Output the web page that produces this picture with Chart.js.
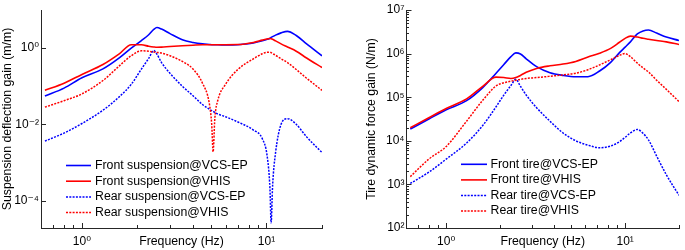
<!DOCTYPE html>
<html>
<head>
<meta charset="utf-8">
<script src="https://cdn.jsdelivr.net/npm/chart.js@4.4.0/dist/chart.umd.min.js"></script>
<style>
  html, body { margin: 0; padding: 0; background: #fff; }
  #wrap { position: relative; width: 685px; height: 250px; overflow: hidden; }
  #wrap canvas { position: absolute; top: 0; }
  #suspension { left: 0; }
  #tire { left: 340px; }
</style>
</head>
<body>
<div id="wrap">
  <canvas id="suspension" width="340" height="250"></canvas>
  <canvas id="tire" width="345" height="250"></canvas>
</div>
<script>
// ---- left panel: suspension deflection gain (m/m) ----
const suspFreq = [0.63, 0.8, 1, 1.3, 1.6, 1.85, 2.1, 2.3, 2.45, 2.55, 2.7, 3, 3.5, 4, 4.5, 4.9, 5.05, 5.14, 5.25, 5.45,
  6, 7, 8.5, 9.5, 10.1, 10.45, 10.6, 10.8, 11.2, 12, 13, 14.5, 16.5, 20];
const frontSuspVcs = [0.055, 0.089, 0.166, 0.285, 0.562, 1.0, 1.58, 2.24, 3.09, 3.47, 3.16, 2.40, 1.66, 1.41, 1.29, 1.245, 1.23, 1.23, 1.22, 1.22,
  1.21, 1.23, 1.36, 1.55, 1.70, 1.82, 1.91, 2.0, 2.19, 2.51, 2.75, 2.14, 1.29, 0.63];
const frontSuspVhis = [0.078, 0.120, 0.204, 0.372, 0.72, 1.23, 1.22, 1.12, 1.07, 1.05, 1.06, 1.10, 1.15, 1.19, 1.22, 1.22, 1.23, 1.23, 1.23, 1.23,
  1.23, 1.24, 1.41, 1.62, 1.74, 1.78, 1.76, 1.70, 1.55, 1.29, 1.07, 0.83, 0.55, 0.31];
const rearSuspVcs = [0.00363, 0.00589, 0.0105, 0.0234, 0.0537, 0.112, 0.282, 0.537, 0.86, 0.69, 0.417, 0.219, 0.1, 0.0562, 0.0331, 0.0251, 0.0229, 0.0219, 0.0204, 0.0186,
  0.0158, 0.0115, 0.00708, 0.00417, 0.00141, 0.0002, 0.000026, 0.000251, 0.00178, 0.01, 0.0141, 0.01, 0.00468, 0.00182];
const rearSuspVhis = [0.0282, 0.0417, 0.063, 0.141, 0.347, 0.63, 0.85, 0.83, 0.79, 0.77, 0.74, 0.63, 0.447, 0.282, 0.120, 0.0355, 0.010, 0.0019, 0.0141, 0.0427,
  0.112, 0.275, 0.525, 0.71, 0.78, 0.78, 0.76, 0.72, 0.65, 0.525, 0.417, 0.275, 0.162, 0.078];

// ---- right panel: tire dynamic force gain (N/m) ----
const tireFreq = [0.63, 0.8, 1, 1.3, 1.6, 1.9, 2.1, 2.3, 2.45, 2.6, 2.8, 3.2, 3.8, 4.5, 5.3, 6.2, 7.2, 8.3, 9.3, 10,
  10.7, 11.7, 12.6, 13.5, 15, 17, 20];
const frontTireVcs = [1.86e4, 3.16e4, 5.13e4, 8.32e4, 1.66e5, 3.55e5, 5.62e5, 8.5e5, 1.04e6, 9.8e5, 7.6e5, 5.01e5, 3.63e5, 3.16e5, 2.95e5, 2.95e5, 3.98e5, 6.31e5, 1.05e6, 1.41e6,
  1.86e6, 2.82e6, 3.31e6, 3.47e6, 2.95e6, 2.40e6, 2.0e6];
const frontTireVhis = [2.0e4, 3.39e4, 5.50e4, 9.12e4, 1.78e5, 2.88e5, 2.82e5, 2.69e5, 2.82e5, 3.16e5, 3.72e5, 4.57e5, 5.25e5, 5.75e5, 6.61e5, 8.32e5, 1.02e6, 1.32e6, 1.82e6, 2.24e6,
  2.51e6, 2.40e6, 2.24e6, 2.14e6, 2.0e6, 1.86e6, 1.62e6];
const rearTireVcs = [1.05e3, 1.91e3, 3.80e3, 8.91e3, 2.24e4, 6.03e4, 1.12e5, 1.86e5, 2.57e5, 1.78e5, 1.12e5, 5.75e4, 2.82e4, 1.51e4, 1.0e4, 7.94e3, 6.92e3, 7.59e3, 9.55e3, 1.20e4,
  1.51e4, 1.82e4, 1.48e4, 1.05e4, 4.47e3, 1.66e3, 562];
const rearTireVhis = [1.51e3, 3.80e3, 7.41e3, 2.82e4, 8.51e4, 1.82e5, 2.14e5, 2.34e5, 2.45e5, 2.57e5, 2.69e5, 2.82e5, 3.02e5, 3.24e5, 3.55e5, 4.27e5, 5.50e5, 7.24e5, 9.12e5, 1.0e6,
  8.51e5, 6.03e5, 4.68e5, 3.80e5, 2.45e5, 1.51e5, 7.94e4];

// ---- axes / ticks ----
const freqRange = [0.63, 20];
const freqTicks = [0.7, 0.8, 0.9, 1, 2, 3, 4, 5, 6, 7, 8, 9, 10, 20];
const freqLabels = [1, 10];
const suspRange = [1.9e-5, 10];
const suspTicks = [1e-4, 1e-2, 1];
const tireRange = [1e2, 1e7];
const tireLabels = [1e2, 1e3, 1e4, 1e5, 1e6, 1e7];
const tireTicks = [];
tireLabels.forEach((d) => {
  tireTicks.push(d);
  if (d < 1e7) for (let m = 2; m <= 9; m++) tireTicks.push(d * m);
});

const BLUE = "#0000ff";
const RED = "#ff0000";
const AXIS = "#262626";
const FONT = "'Liberation Sans', Arial, 'DejaVu Sans', sans-serif";

Chart.defaults.font.family = FONT;
Chart.defaults.color = "#000";

const SUP = { "0": "⁰", "1": "¹", "2": "²", "3": "³", "4": "⁴", "5": "⁵", "6": "⁶", "7": "⁷", "8": "⁸", "9": "⁹", "-": "⁻" };
function powLabel(v) {
  const e = Math.round(Math.log10(v));
  return "10" + String(e).split("").map((c) => SUP[c]).join("");
}
function isDecade(v) {
  const l = Math.log10(v);
  return Math.abs(l - Math.round(l)) < 1e-6;
}
function labelOnly(list) {
  return (value) => (list.some((v) => Math.abs(v - value) / v < 1e-6) ? powLabel(value) : "");
}
function pts(freq, values) {
  return freq.map((f, i) => ({ x: f, y: values[i] }));
}

// ticks drawn inward from the axis lines
const innerTicks = {
  id: "innerTicks",
  afterDraw(chart, args, opts) {
    const { ctx, chartArea } = chart;
    ctx.save();
    ctx.strokeStyle = AXIS;
    ctx.lineWidth = 1;
    ["x", "y"].forEach((id) => {
      const scale = chart.scales[id];
      scale.ticks.forEach((t) => {
        const len = isDecade(t.value) ? opts.major : opts.minor[id];
        if (!len) return;
        const p = Math.round(scale.getPixelForValue(t.value)) + 0.5;
        ctx.beginPath();
        if (id === "x") {
          ctx.moveTo(p, chartArea.bottom);
          ctx.lineTo(p, chartArea.bottom - len);
        } else {
          ctx.moveTo(chartArea.left, p);
          ctx.lineTo(chartArea.left + len, p);
        }
        ctx.stroke();
      });
    });
    ctx.restore();
  },
};

// legend with line samples, placed inside the plot
const lineLegend = {
  id: "lineLegend",
  afterDraw(chart, args, opts) {
    const ctx = chart.ctx;
    ctx.save();
    ctx.font = opts.fontSize + "px " + FONT;
    ctx.textBaseline = "middle";
    chart.data.datasets.forEach((ds, i) => {
      const y = opts.y + i * opts.rowHeight;
      ctx.strokeStyle = ds.borderColor;
      ctx.lineWidth = ds.borderWidth;
      ctx.setLineDash(ds.borderDash || []);
      ctx.beginPath();
      ctx.moveTo(opts.x, y);
      ctx.lineTo(opts.x + opts.lineLength, y);
      ctx.stroke();
      ctx.setLineDash([]);
      ctx.fillStyle = "#000";
      ctx.fillText(ds.label, opts.x + opts.lineLength + opts.gap, y);
    });
    ctx.restore();
  },
};

function dataset(label, freq, values, color, dotted, order) {
  return {
    label,
    data: pts(freq, values),
    borderColor: color,
    backgroundColor: color,
    borderWidth: dotted ? 1.5 : 1.6,
    borderDash: dotted ? [2, 1.3] : [],
    pointRadius: 0,
    cubicInterpolationMode: "monotone",
    fill: false,
    order,
  };
}

function makeChart(canvasId, cfg) {
  return new Chart(document.getElementById(canvasId), {
    type: "line",
    data: { datasets: cfg.datasets },
    options: {
      responsive: false,
      animation: false,
      devicePixelRatio: 1,
      layout: { padding: { top: 10, right: cfg.padRight, bottom: 0, left: 0 } },
      plugins: {
        legend: { display: false },
        tooltip: { enabled: false },
        innerTicks: { major: 5, minor: { x: 3, y: cfg.yMinor } },
        lineLegend: cfg.legend,
      },
      scales: {
        x: {
          type: "logarithmic",
          min: freqRange[0],
          max: freqRange[1],
          afterBuildTicks: (s) => { s.ticks = freqTicks.map((v) => ({ value: v })); },
          afterFit: (s) => { s.height = 22; },
          grid: { display: false, drawTicks: false },
          border: { display: true, color: AXIS, width: 1 },
          ticks: {
            autoSkip: false,
            maxRotation: 0,
            padding: 6,
            font: { size: 12 },
            callback: labelOnly(freqLabels),
          },
          title: { display: true, text: "Frequency (Hz)", font: { size: 12.3 }, padding: { top: 0, bottom: 1 } },
        },
        y: {
          type: "logarithmic",
          min: cfg.yRange[0],
          max: cfg.yRange[1],
          afterBuildTicks: (s) => { s.ticks = cfg.yTicks.map((v) => ({ value: v })); },
          afterFit: (s) => { s.width = cfg.yWidth; },
          grid: { display: false, drawTicks: false },
          border: { display: true, color: AXIS, width: 1 },
          ticks: {
            autoSkip: false,
            padding: 2,
            font: { size: 12 },
            callback: labelOnly(cfg.yLabels),
          },
          title: { display: true, text: cfg.yTitle, font: { size: 12.3 }, padding: { top: cfg.yTitlePad, bottom: 0 } },
        },
      },
    },
    plugins: [innerTicks, lineLegend],
  });
}

makeChart("suspension", {
  datasets: [
    dataset("Front suspension@VCS-EP", suspFreq, frontSuspVcs, BLUE, false, 3),
    dataset("Front suspension@VHIS", suspFreq, frontSuspVhis, RED, false, 2),
    dataset("Rear suspension@VCS-EP", suspFreq, rearSuspVcs, BLUE, true, 1),
    dataset("Rear suspension@VHIS", suspFreq, rearSuspVhis, RED, true, 0),
  ],
  padRight: 18,
  yWidth: 41,
  yRange: suspRange,
  yTicks: suspTicks,
  yLabels: suspTicks,
  yMinor: 0,
  yTitle: "Suspension deflection gain (m/m)",
  yTitlePad: 0,
  legend: { x: 66, y: 165.5, rowHeight: 15.7, lineLength: 25, gap: 4, fontSize: 12.3 },
});

makeChart("tire", {
  datasets: [
    dataset("Front tire@VCS-EP", tireFreq, frontTireVcs, BLUE, false, 3),
    dataset("Front tire@VHIS", tireFreq, frontTireVhis, RED, false, 2),
    dataset("Rear tire@VCS-EP", tireFreq, rearTireVcs, BLUE, true, 1),
    dataset("Rear tire@VHIS", tireFreq, rearTireVhis, RED, true, 0),
  ],
  padRight: 0,
  yWidth: 66.5,
  yRange: tireRange,
  yTicks: tireTicks,
  yLabels: tireLabels,
  yMinor: 2.5,
  yTitle: "Tire dynamic force gain (N/m)",
  yTitlePad: 24,
  legend: { x: 121, y: 164.3, rowHeight: 15.6, lineLength: 26, gap: 3.5, fontSize: 12.3 },
});
</script>
</body>
</html>
